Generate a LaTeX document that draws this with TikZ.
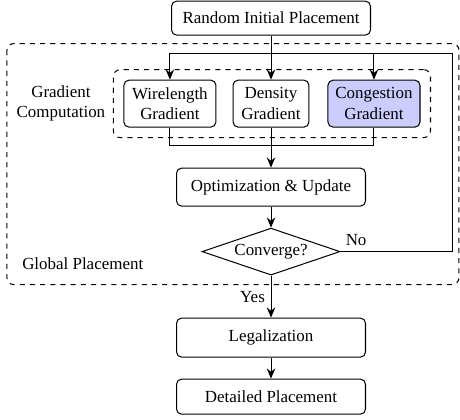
\documentclass[tikz,border=0pt]{standalone}
\usepackage{fontspec}
\setmainfont{Liberation Serif}
\usetikzlibrary{arrows.meta,shapes.geometric,positioning,fit,calc}
\definecolor{congfill}{RGB}{204,204,255}
\tikzset{
  stagebox/.style={rectangle,rounded corners=3pt,draw=black,line width=0.6pt,
                   minimum width=#1,minimum height=22pt,align=center,inner sep=2pt},
  stagebox/.default=111.5pt,
  gradbox/.style={rectangle,rounded corners=3pt,draw=black,line width=0.6pt,
                  minimum width=#1,minimum height=27.7pt,align=center,inner sep=2pt},
  gradbox/.default=54.3pt,
  decision/.style={diamond,draw=black,line width=0.6pt,aspect=2.9,
                   minimum width=81.4pt,minimum height=27.7pt,inner sep=1pt},
  groupbox/.style={draw=black,dashed,line width=0.6pt,rounded corners=4pt},
  arrow/.style={-{Stealth[length=6pt,width=5pt]},line width=0.6pt},
  line/.style={line width=0.6pt},
}
\begin{document}
\begin{tikzpicture}[node distance=12.4pt]

  % main column
  \node[stagebox=117.4pt,minimum height=20pt] (init) {Random Initial Placement};
  \node[gradbox=44.8pt,below=26pt of init] (dens) {Density\\Gradient};
  \node[gradbox,left=9.5pt of dens] (wl) {Wirelength\\Gradient};
  \node[gradbox,right=10.6pt of dens,fill=congfill] (cong) {Congestion\\Gradient};
  \node[stagebox,minimum height=22.4pt,below=23.6pt of dens] (opt) {Optimization \& Update};
  \node[decision,below=of opt] (conv) {Converge?};
  \node[stagebox,minimum height=23pt,below=24.8pt of conv] (legal) {Legalization};
  \node[stagebox,minimum height=20.7pt,below=of legal] (detail) {Detailed Placement};

  % groups
  \node[groupbox,fit=(wl)(dens)(cong),inner sep=5.9pt] (gcbox) {};
  \node[left=1pt of gcbox,align=center] (gclabel) {Gradient\\Computation};
  \coordinate (gpnw) at ($(init.south)+(-155.8pt,-4.7pt)$);
  \coordinate (gpse) at ($(conv.south)+(110.9pt,-5.3pt)$);
  \draw[groupbox] (gpnw) rectangle (gpse);
  \node[anchor=south west] (gplabel) at ($(gpnw|-gpse)+(5.5pt,5pt)$) {Global Placement};

  % connectors
  \coordinate (fbtop) at ($(init.south)+(106.8pt,-10.6pt)$);
  \coordinate (mrg) at ($(dens.south)+(0,-10.6pt)$);
  \draw[arrow] (init) -- (dens);
  \draw[arrow] (conv.east) -- node[above,pos=0.14] {No} (conv.east -| fbtop)
    -- (fbtop) -| (wl.north);
  \draw[arrow] (fbtop -| cong) -- (cong.north);
  \draw[line] (wl.south) |- (mrg) -| (cong.south);
  \draw[arrow] (dens) -- (opt);
  \draw[arrow] (opt) -- (conv);
  \draw[arrow] (conv) -- node[left] {Yes} (legal);
  \draw[arrow] (legal) -- (detail);

  \useasboundingbox ($(init.north)+(-159.9pt,0.4pt)$) rectangle ($(detail.south)+(111.5pt,-3pt)$);
\end{tikzpicture}
\end{document}
